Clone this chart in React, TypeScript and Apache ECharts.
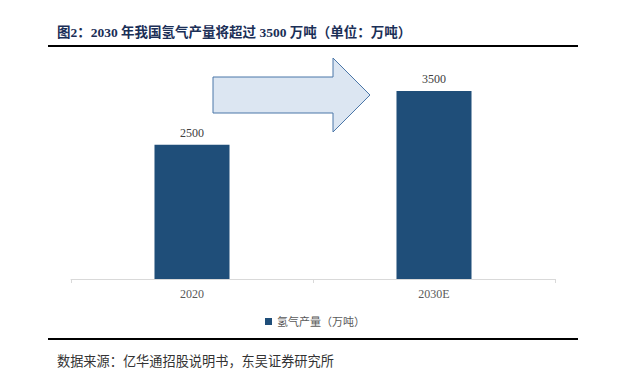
import React, { useEffect, useRef } from "react";
import * as echarts from "echarts";

const categories = ["2020", "2030E"];
const seriesName = "氢气产量（万吨）";
const values = [2500, 3500];
const titleText = "图2：2030 年我国氢气产量将超过 3500 万吨（单位：万吨）";
const sourceText = "数据来源：亿华通招股说明书，东吴证券研究所";

const SERIF = "'Liberation Serif', 'DejaVu Serif', 'Noto Sans CJK SC', serif";

export default function App() {
  const ref = useRef<HTMLDivElement>(null);
  useEffect(() => {
    if (!ref.current) return;
    const chart = echarts.init(ref.current, null, { renderer: "svg" });
    chart.setOption({
      animation: false,
      backgroundColor: "#ffffff",
      grid: { left: 71, right: 75, top: 64, bottom: 109, containLabel: false },
      legend: {
        data: [seriesName],
        top: 311,
        left: "center",
        itemWidth: 7,
        itemHeight: 7,
        itemGap: 4,
        icon: "rect",
        textStyle: { fontSize: 11, color: "#595959", fontFamily: SERIF },
      },
      xAxis: {
        type: "category",
        data: categories,
        axisLine: { lineStyle: { color: "#d9d9d9", width: 1 } },
        axisTick: { show: true, length: 4, lineStyle: { color: "#d9d9d9" } },
        axisLabel: { fontSize: 12, color: "#595959", margin: 9, fontFamily: SERIF },
      },
      yAxis: {
        type: "value",
        min: 0,
        max: 4000,
        show: false,
        splitLine: { show: false },
      },
      series: [
        {
          name: seriesName,
          type: "bar",
          data: values,
          barWidth: "31%",
          itemStyle: { color: "#1f4e79" },
          label: {
            show: true,
            position: "top",
            distance: 6,
            fontSize: 12,
            color: "#404040",
            fontFamily: SERIF,
          },
        },
      ],
      graphic: [
        {
          type: "text",
          left: 57,
          top: 26,
          style: {
            text: titleText,
            font: "bold 13.5px " + SERIF,
            fill: "#1b2f57",
          },
        },
        {
          type: "rect",
          shape: { x: 48, y: 45, width: 530, height: 2 },
          style: { fill: "#000000" },
        },
        {
          type: "rect",
          shape: { x: 48, y: 338, width: 530, height: 2 },
          style: { fill: "#000000" },
        },
        {
          type: "text",
          left: 57,
          top: 355,
          style: {
            text: sourceText,
            font: "13.2px " + SERIF,
            fill: "#333333",
          },
        },
        {
          type: "polygon",
          shape: {
            points: [
              [213, 77],
              [333, 77],
              [333, 58],
              [370, 95],
              [333, 132],
              [333, 113],
              [213, 113],
            ],
          },
          style: { fill: "#dce6f2", stroke: "#4a76a8", lineWidth: 1 },
        },
      ],
    });
    return () => chart.dispose();
  }, []);
  return (
    <div
      ref={ref}
      style={{ position: "absolute", left: 0, top: 0, width: 630, height: 388 }}
    />
  );
}
